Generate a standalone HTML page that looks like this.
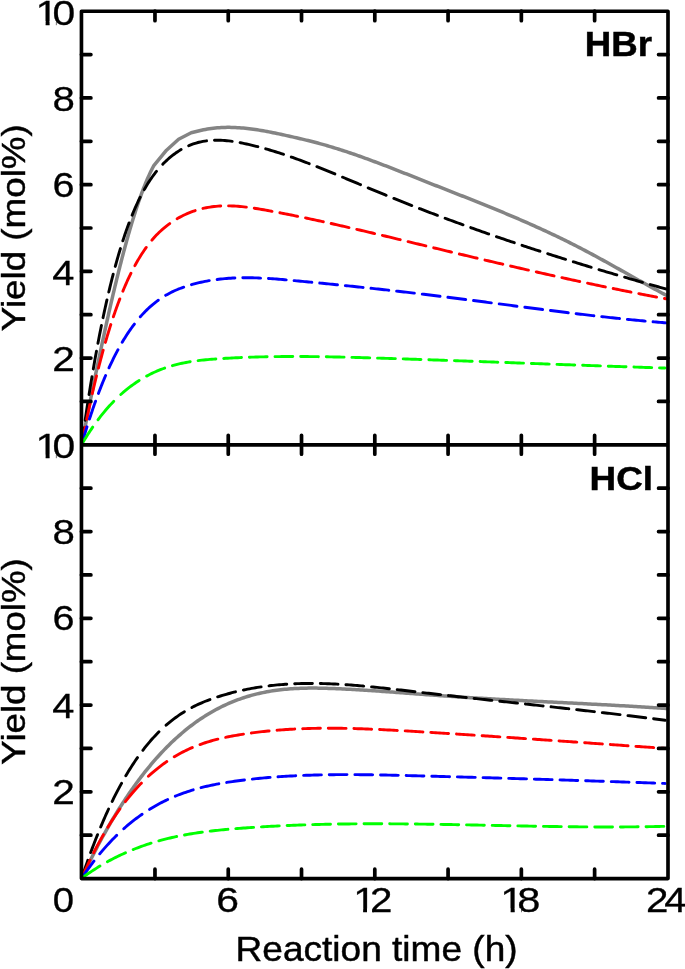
<!DOCTYPE html>
    <html><head><meta charset="utf-8"><title>Yield vs reaction time</title>
    <style>html,body{margin:0;padding:0;background:#fff;overflow:hidden}svg{display:block}</style>
    </head><body>
    <svg width="685" height="969" viewBox="0 0 685 969">
    <rect width="685" height="969" fill="#fff"/>
    <path d="M81.70,444.50 L82.08,442.54 L82.46,440.57 L82.84,438.61 L83.22,436.65 L83.60,434.69 L83.99,432.73 L84.37,430.76 L84.75,428.80 L85.14,426.84 L85.52,424.88 L85.91,422.92 L86.29,420.96 L86.68,419.00 L87.06,417.04 L87.45,415.08 L87.84,413.12 L88.23,411.15 L88.62,409.19 L89.01,407.23 L89.40,405.27 L89.79,403.31 L90.18,401.36 L90.57,399.40 L90.96,397.44 L91.36,395.48 L91.75,393.52 L92.14,391.56 L92.54,389.60 L92.94,387.64 L93.33,385.68 L93.73,383.73 L94.13,381.77 L94.53,379.81 L94.93,377.85 L95.33,375.90 L95.73,373.94 L96.14,371.98 L96.54,370.03 L96.94,368.07 L97.35,366.11 L97.76,364.16 L98.16,362.20 L98.57,360.25 L98.98,358.29 L99.39,356.34 L99.80,354.38 L100.22,352.43 L100.63,350.47 L101.05,348.52 L101.46,346.57 L101.88,344.61 L102.30,342.66 L102.72,340.71 L103.14,338.76 L103.56,336.80 L103.98,334.85 L104.41,332.90 L104.83,330.95 L105.26,329.00 L105.69,327.05 L106.12,325.10 L106.55,323.15 L106.98,321.20 L107.41,319.25 L107.85,317.30 L108.29,315.35 L108.72,313.41 L109.16,311.46 L109.61,309.51 L110.05,307.57 L110.49,305.62 L110.94,303.68 L111.39,301.73 L111.84,299.79 L112.29,297.84 L112.75,295.90 L113.20,293.96 L113.66,292.01 L114.12,290.07 L114.58,288.13 L115.05,286.19 L115.51,284.25 L115.98,282.31 L116.45,280.37 L116.92,278.43 L117.40,276.50 L117.88,274.56 L118.36,272.62 L118.84,270.69 L119.33,268.75 L119.81,266.82 L120.30,264.88 L120.80,262.95 L121.29,261.02 L121.79,259.09 L122.29,257.16 L122.80,255.23 L123.31,253.30 L123.82,251.38 L124.33,249.45 L124.85,247.53 L125.37,245.60 L125.90,243.68 L126.43,241.76 L126.96,239.84 L127.50,237.92 L128.04,236.00 L128.58,234.09 L129.13,232.17 L129.69,230.26 L130.25,228.35 L130.81,226.44 L131.38,224.53 L131.95,222.62 L132.53,220.72 L133.11,218.82 L133.70,216.91 L134.30,215.02 L134.90,213.12 L135.51,211.23 L136.12,209.33 L136.74,207.44 L137.37,205.56 L138.01,203.68 L138.65,201.79 L139.31,199.92 L139.97,198.04 L140.64,196.17 L141.31,194.31 L142.00,192.45 L142.70,190.59 L143.41,188.74 L144.13,186.89 L144.87,185.05 L145.61,183.21 L146.37,181.38 L147.15,179.56 L147.94,177.74 L148.75,175.94 L149.57,174.14 L150.41,172.35 L151.28,170.57 L152.16,168.81 L153.07,167.06 L153.80,165.70 L166.50,150.20 L178.60,139.30 L191.20,132.80 L203.50,129.80 L205.46,129.41 L207.42,129.06 L209.40,128.75 L211.37,128.46 L213.36,128.22 L215.34,128.00 L217.33,127.82 L219.33,127.67 L221.32,127.55 L223.32,127.46 L225.32,127.40 L227.32,127.37 L229.32,127.37 L231.32,127.40 L233.32,127.45 L235.32,127.53 L237.31,127.63 L239.31,127.76 L241.31,127.91 L243.30,128.08 L245.29,128.27 L247.28,128.48 L249.27,128.72 L251.25,128.97 L253.24,129.23 L255.22,129.52 L257.20,129.82 L259.17,130.13 L261.15,130.46 L263.12,130.80 L265.09,131.15 L267.06,131.52 L269.02,131.89 L270.99,132.27 L272.95,132.67 L274.91,133.07 L276.87,133.47 L278.82,133.89 L280.78,134.31 L282.73,134.73 L284.69,135.16 L286.64,135.59 L288.59,136.03 L290.55,136.46 L292.50,136.90 L294.45,137.35 L296.40,137.79 L298.35,138.24 L300.30,138.70 L302.24,139.15 L304.19,139.62 L306.13,140.09 L308.08,140.57 L310.02,141.05 L311.96,141.54 L313.90,142.04 L315.83,142.54 L317.77,143.05 L319.70,143.58 L321.63,144.11 L323.56,144.65 L325.48,145.19 L327.40,145.75 L329.32,146.31 L331.24,146.88 L333.16,147.46 L335.07,148.05 L336.98,148.64 L338.89,149.24 L340.80,149.85 L342.70,150.47 L344.60,151.09 L346.50,151.71 L348.40,152.35 L350.30,152.99 L352.19,153.63 L354.09,154.28 L355.98,154.93 L357.87,155.59 L359.75,156.26 L361.64,156.93 L363.52,157.60 L365.40,158.28 L367.29,158.97 L369.16,159.65 L371.04,160.34 L372.92,161.04 L374.79,161.74 L376.67,162.44 L378.54,163.14 L380.41,163.85 L382.28,164.56 L384.15,165.27 L386.02,165.99 L387.88,166.71 L389.75,167.43 L391.62,168.15 L393.48,168.88 L395.34,169.60 L397.21,170.33 L399.07,171.06 L400.93,171.79 L402.79,172.52 L404.65,173.26 L406.52,173.99 L408.38,174.73 L410.24,175.46 L412.10,176.20 L413.95,176.93 L415.81,177.67 L417.67,178.41 L419.53,179.14 L421.39,179.88 L423.25,180.61 L425.11,181.35 L426.97,182.08 L428.83,182.82 L430.69,183.55 L432.55,184.28 L434.42,185.01 L436.28,185.75 L438.14,186.48 L440.00,187.21 L441.86,187.94 L443.72,188.67 L445.58,189.40 L447.45,190.13 L449.31,190.86 L451.17,191.60 L453.03,192.33 L454.89,193.06 L456.75,193.79 L458.61,194.53 L460.47,195.26 L462.33,196.00 L464.19,196.73 L466.05,197.47 L467.91,198.20 L469.77,198.94 L471.63,199.68 L473.49,200.42 L475.35,201.16 L477.20,201.91 L479.06,202.65 L480.92,203.40 L482.77,204.14 L484.63,204.89 L486.48,205.64 L488.34,206.40 L490.19,207.15 L492.04,207.91 L493.89,208.66 L495.74,209.42 L497.59,210.19 L499.44,210.95 L501.29,211.72 L503.14,212.48 L504.98,213.25 L506.83,214.03 L508.67,214.80 L510.51,215.58 L512.36,216.36 L514.20,217.15 L516.04,217.93 L517.88,218.72 L519.71,219.51 L521.55,220.31 L523.38,221.11 L525.22,221.91 L527.05,222.71 L528.88,223.52 L530.71,224.33 L532.54,225.14 L534.36,225.96 L536.19,226.78 L538.01,227.60 L539.83,228.43 L541.65,229.26 L543.47,230.10 L545.29,230.93 L547.10,231.78 L548.92,232.62 L550.73,233.47 L552.54,234.32 L554.35,235.18 L556.15,236.04 L557.96,236.91 L559.76,237.78 L561.56,238.65 L563.36,239.53 L565.16,240.41 L566.95,241.30 L568.74,242.19 L570.53,243.08 L572.32,243.98 L574.11,244.88 L575.89,245.79 L577.67,246.70 L579.45,247.62 L581.23,248.54 L583.00,249.47 L584.77,250.40 L586.54,251.33 L588.31,252.27 L590.07,253.22 L591.84,254.16 L593.60,255.11 L595.36,256.06 L597.12,257.02 L598.87,257.98 L600.63,258.94 L602.38,259.90 L604.13,260.87 L605.89,261.83 L607.64,262.80 L609.38,263.77 L611.13,264.75 L612.88,265.72 L614.63,266.70 L616.37,267.67 L618.12,268.65 L619.86,269.63 L621.60,270.61 L623.35,271.59 L625.09,272.57 L626.84,273.55 L628.58,274.53 L630.32,275.51 L632.07,276.49 L633.81,277.47 L635.55,278.45 L637.30,279.42 L639.04,280.40 L640.79,281.37 L642.54,282.35 L644.28,283.32 L646.03,284.29 L647.78,285.26 L649.53,286.23 L651.28,287.19 L653.03,288.15 L654.79,289.11 L656.54,290.07 L658.30,291.02 L660.06,291.97 L661.82,292.92 L663.58,293.86 L665.35,294.80 L667.11,295.74 L667.60,296.00" fill="none" stroke="#848484" stroke-width="3.5" stroke-linejoin="round"/>
<path d="M81.70,444.50 L81.97,442.52 L82.25,440.54 L82.52,438.57 L82.80,436.59 L83.07,434.62 L83.35,432.64 L83.63,430.67 L83.92,428.69 L84.20,426.72 L84.49,424.75 L84.77,422.77 L85.06,420.80 L85.35,418.82 L85.64,416.85 L85.94,414.88 L86.23,412.91 L86.53,410.93 L86.83,408.96 L87.13,406.99 L87.43,405.02 L87.73,403.05 L88.04,401.08 L88.34,399.11 L88.65,397.14 L88.96,395.17 L89.27,393.20 L89.59,391.23 L89.91,389.26 L90.22,387.29 L90.54,385.33 L90.87,383.36 L91.19,381.39 L91.52,379.42 L91.85,377.46 L92.18,375.49 L92.51,373.53 L92.84,371.56 L93.18,369.60 L93.52,367.63 L93.86,365.67 L94.21,363.70 L94.55,361.74 L94.90,359.78 L95.25,357.82 L95.61,355.86 L95.96,353.90 L96.32,351.93 L96.68,349.97 L97.04,348.02 L97.41,346.06 L97.78,344.10 L98.15,342.14 L98.53,340.18 L98.90,338.23 L99.28,336.27 L99.66,334.31 L100.05,332.36 L100.44,330.41 L100.83,328.45 L101.22,326.50 L101.62,324.55 L102.02,322.60 L102.43,320.65 L102.83,318.70 L103.24,316.75 L103.66,314.80 L104.07,312.85 L104.49,310.90 L104.92,308.96 L105.35,307.01 L105.78,305.07 L106.21,303.12 L106.65,301.18 L107.09,299.24 L107.54,297.30 L107.99,295.36 L108.44,293.42 L108.90,291.48 L109.36,289.55 L109.83,287.61 L110.30,285.68 L110.77,283.74 L111.25,281.81 L111.74,279.88 L112.23,277.95 L112.72,276.02 L113.22,274.10 L113.72,272.17 L114.23,270.25 L114.74,268.33 L115.26,266.41 L115.79,264.49 L116.32,262.57 L116.86,260.66 L117.40,258.74 L117.95,256.83 L118.50,254.92 L119.07,253.01 L119.63,251.11 L120.21,249.21 L120.79,247.31 L121.38,245.41 L121.98,243.51 L122.58,241.62 L123.19,239.73 L123.81,237.84 L124.44,235.96 L125.08,234.08 L125.73,232.20 L126.38,230.32 L127.05,228.45 L127.72,226.58 L128.40,224.72 L129.10,222.86 L129.80,221.01 L130.52,219.16 L131.25,217.31 L131.99,215.47 L132.74,213.63 L133.50,211.80 L134.28,209.98 L135.07,208.16 L135.87,206.35 L136.69,204.54 L137.52,202.74 L138.37,200.95 L139.23,199.17 L140.12,197.40 L141.01,195.63 L141.93,193.87 L142.86,192.13 L143.82,190.39 L144.79,188.67 L145.78,186.96 L146.80,185.26 L147.83,183.57 L148.89,181.90 L149.97,180.25 L151.08,178.61 L152.21,176.99 L153.37,175.38 L154.55,173.80 L155.76,172.23 L157.00,170.69 L158.26,169.17 L159.56,167.67 L160.88,166.20 L162.23,164.75 L163.61,163.34 L165.02,161.94 L166.46,160.58 L167.92,159.25 L169.42,157.95 L170.94,156.67 L172.48,155.44 L174.06,154.24 L175.67,153.07 L177.30,151.95 L178.96,150.87 L180.65,149.83 L182.37,148.84 L184.12,147.90 L185.89,147.01 L187.69,146.16 L189.51,145.37 L191.36,144.64 L193.23,143.96 L195.12,143.34 L197.03,142.77 L198.95,142.26 L200.90,141.81 L202.85,141.42 L204.82,141.08 L206.79,140.80 L208.78,140.57 L210.77,140.40 L212.76,140.28 L214.76,140.21 L216.76,140.18 L218.76,140.21 L220.76,140.27 L222.76,140.38 L224.75,140.52 L226.75,140.71 L228.74,140.92 L230.72,141.17 L232.70,141.45 L234.68,141.75 L236.66,142.08 L238.63,142.43 L240.60,142.80 L242.56,143.18 L244.52,143.59 L246.48,144.01 L248.43,144.44 L250.38,144.88 L252.33,145.34 L254.28,145.81 L256.22,146.29 L258.16,146.79 L260.10,147.30 L262.03,147.82 L263.96,148.35 L265.89,148.89 L267.81,149.44 L269.73,150.00 L271.65,150.58 L273.56,151.16 L275.48,151.75 L277.39,152.35 L279.29,152.96 L281.20,153.58 L283.10,154.20 L284.99,154.84 L286.89,155.48 L288.78,156.13 L290.67,156.79 L292.56,157.46 L294.45,158.13 L296.33,158.81 L298.21,159.49 L300.09,160.18 L301.96,160.88 L303.84,161.58 L305.71,162.29 L307.58,163.00 L309.45,163.72 L311.31,164.44 L313.18,165.17 L315.04,165.90 L316.90,166.63 L318.76,167.37 L320.62,168.12 L322.47,168.86 L324.33,169.61 L326.18,170.37 L328.03,171.12 L329.88,171.88 L331.73,172.64 L333.58,173.41 L335.43,174.17 L337.28,174.94 L339.13,175.71 L340.97,176.48 L342.82,177.25 L344.66,178.02 L346.51,178.80 L348.35,179.57 L350.19,180.35 L352.04,181.13 L353.88,181.90 L355.72,182.68 L357.57,183.45 L359.41,184.23 L361.25,185.00 L363.10,185.78 L364.94,186.55 L366.79,187.32 L368.63,188.10 L370.48,188.87 L372.32,189.63 L374.17,190.40 L376.02,191.16 L377.87,191.93 L379.71,192.69 L381.56,193.45 L383.42,194.20 L385.27,194.96 L387.12,195.71 L388.97,196.46 L390.83,197.21 L392.68,197.96 L394.54,198.71 L396.39,199.45 L398.25,200.19 L400.11,200.93 L401.96,201.67 L403.82,202.41 L405.68,203.14 L407.54,203.88 L409.40,204.61 L411.27,205.34 L413.13,206.07 L414.99,206.79 L416.86,207.52 L418.72,208.24 L420.58,208.96 L422.45,209.68 L424.32,210.40 L426.18,211.11 L428.05,211.83 L429.92,212.54 L431.79,213.25 L433.66,213.96 L435.53,214.66 L437.40,215.37 L439.27,216.07 L441.15,216.77 L443.02,217.47 L444.89,218.17 L446.77,218.87 L448.64,219.56 L450.52,220.26 L452.39,220.95 L454.27,221.64 L456.15,222.33 L458.03,223.01 L459.91,223.70 L461.79,224.38 L463.67,225.06 L465.55,225.74 L467.43,226.42 L469.31,227.09 L471.19,227.77 L473.07,228.44 L474.96,229.11 L476.84,229.78 L478.73,230.45 L480.61,231.12 L482.50,231.78 L484.39,232.45 L486.27,233.11 L488.16,233.77 L490.05,234.43 L491.94,235.08 L493.83,235.74 L495.72,236.39 L497.61,237.04 L499.50,237.69 L501.39,238.34 L503.28,238.99 L505.17,239.64 L507.07,240.28 L508.96,240.92 L510.85,241.56 L512.75,242.20 L514.64,242.84 L516.54,243.48 L518.44,244.11 L520.33,244.75 L522.23,245.38 L524.13,246.01 L526.03,246.64 L527.93,247.26 L529.82,247.89 L531.72,248.52 L533.62,249.14 L535.53,249.76 L537.43,250.38 L539.33,251.00 L541.23,251.62 L543.13,252.23 L545.04,252.84 L546.94,253.46 L548.84,254.07 L550.75,254.68 L552.65,255.29 L554.56,255.89 L556.46,256.50 L558.37,257.10 L560.28,257.71 L562.18,258.31 L564.09,258.91 L566.00,259.51 L567.91,260.10 L569.82,260.70 L571.73,261.29 L573.64,261.89 L575.55,262.48 L577.46,263.07 L579.37,263.66 L581.28,264.25 L583.19,264.83 L585.10,265.42 L587.02,266.00 L588.93,266.59 L590.84,267.17 L592.76,267.75 L594.67,268.33 L596.59,268.90 L598.50,269.48 L600.42,270.05 L602.33,270.63 L604.25,271.20 L606.17,271.77 L608.08,272.34 L610.00,272.91 L611.92,273.48 L613.84,274.04 L615.75,274.61 L617.67,275.17 L619.59,275.73 L621.51,276.29 L623.43,276.85 L625.35,277.41 L627.27,277.97 L629.19,278.53 L631.11,279.08 L633.03,279.64 L634.96,280.19 L636.88,280.74 L638.80,281.29 L640.72,281.84 L642.65,282.39 L644.57,282.94 L646.49,283.49 L648.42,284.03 L650.34,284.58 L652.27,285.12 L654.19,285.66 L656.12,286.20 L658.04,286.74 L659.97,287.28 L661.90,287.82 L663.82,288.35 L665.75,288.89 L667.60,289.40" fill="none" stroke="#000000" stroke-width="2.9" stroke-linejoin="round" stroke-dasharray="15.14 7.95 17.97 7.96 18.01 7.97 18.07 7.99 18.13 8.01 18.23 8.03 18.37 8.07 18.58 8.14 18.96 8.27 19.76 8.57 21.98 9.57 23.50 8.51 18.59 7.92 17.82 7.97 18.26 8.08 18.71 8.19 19.10 8.27 19.38 8.32 19.49 8.32 19.43 8.29 19.30 8.26 19.19 8.24 19.09 8.21 18.99 8.19 18.90 8.17 18.83 8.15 18.75 8.14 18.69 8.12 18.63 8.11 18.58 8.10 16.55 100.00" stroke-dashoffset="-1.45" stroke-linecap="round"/>
<path d="M81.70,444.49 L82.08,442.53 L82.46,440.57 L82.84,438.61 L83.22,436.66 L83.61,434.70 L83.99,432.74 L84.38,430.79 L84.78,428.83 L85.17,426.88 L85.57,424.92 L85.97,422.97 L86.37,421.02 L86.77,419.07 L87.18,417.12 L87.59,415.16 L88.00,413.21 L88.42,411.26 L88.84,409.31 L89.26,407.37 L89.68,405.42 L90.11,403.47 L90.54,401.53 L90.97,399.58 L91.41,397.63 L91.84,395.69 L92.29,393.75 L92.73,391.80 L93.18,389.86 L93.63,387.92 L94.09,385.98 L94.54,384.04 L95.00,382.10 L95.47,380.17 L95.94,378.23 L96.41,376.30 L96.89,374.36 L97.37,372.43 L97.85,370.50 L98.34,368.56 L98.83,366.63 L99.32,364.70 L99.82,362.78 L100.33,360.85 L100.83,358.92 L101.35,357.00 L101.86,355.08 L102.39,353.16 L102.91,351.24 L103.44,349.32 L103.98,347.40 L104.52,345.48 L105.07,343.57 L105.62,341.66 L106.17,339.75 L106.74,337.84 L107.30,335.93 L107.88,334.02 L108.46,332.12 L109.04,330.22 L109.63,328.32 L110.23,326.42 L110.83,324.53 L111.44,322.63 L112.06,320.74 L112.68,318.85 L113.32,316.97 L113.95,315.08 L114.60,313.20 L115.25,311.33 L115.91,309.45 L116.58,307.58 L117.26,305.71 L117.95,303.85 L118.64,301.98 L119.34,300.13 L120.06,298.27 L120.78,296.42 L121.51,294.57 L122.25,292.73 L123.00,290.89 L123.77,289.06 L124.54,287.23 L125.33,285.41 L126.12,283.59 L126.93,281.78 L127.75,279.97 L128.59,278.17 L129.43,276.38 L130.30,274.59 L131.17,272.81 L132.06,271.03 L132.96,269.27 L133.88,267.51 L134.82,265.77 L135.77,264.03 L136.74,262.30 L137.73,260.58 L138.74,258.87 L139.76,257.18 L140.80,255.49 L141.87,253.82 L142.95,252.17 L144.06,250.52 L145.19,248.90 L146.34,247.29 L147.51,245.69 L148.71,244.12 L149.94,242.56 L151.19,241.02 L152.46,239.51 L153.76,238.02 L155.09,236.55 L156.44,235.11 L157.83,233.69 L159.24,232.30 L160.68,230.94 L162.14,229.61 L163.64,228.31 L165.16,227.04 L166.71,225.80 L168.29,224.60 L169.89,223.43 L171.52,222.30 L173.18,221.20 L174.85,220.13 L176.55,219.10 L178.27,218.10 L180.01,217.13 L181.77,216.21 L183.55,215.32 L185.34,214.46 L187.16,213.65 L188.99,212.87 L190.84,212.14 L192.71,211.44 L194.59,210.79 L196.49,210.18 L198.40,209.61 L200.32,209.08 L202.26,208.60 L204.20,208.15 L206.16,207.75 L208.12,207.39 L210.09,207.07 L212.07,206.78 L214.05,206.54 L216.04,206.34 L218.03,206.17 L220.02,206.04 L222.02,205.94 L224.02,205.88 L226.02,205.85 L228.02,205.85 L230.02,205.89 L232.02,205.95 L234.02,206.04 L236.01,206.15 L238.01,206.29 L240.00,206.46 L241.99,206.65 L243.99,206.85 L245.97,207.08 L247.96,207.33 L249.94,207.59 L251.92,207.87 L253.90,208.16 L255.88,208.47 L257.86,208.78 L259.83,209.11 L261.80,209.45 L263.77,209.79 L265.74,210.14 L267.71,210.50 L269.68,210.86 L271.65,211.23 L273.61,211.60 L275.58,211.97 L277.54,212.34 L279.51,212.72 L281.47,213.10 L283.43,213.48 L285.40,213.86 L287.36,214.25 L289.32,214.64 L291.28,215.03 L293.24,215.43 L295.20,215.82 L297.16,216.22 L299.12,216.62 L301.08,217.03 L303.04,217.43 L305.00,217.84 L306.96,218.25 L308.91,218.67 L310.87,219.08 L312.83,219.50 L314.78,219.92 L316.74,220.34 L318.69,220.76 L320.65,221.19 L322.60,221.62 L324.56,222.04 L326.51,222.48 L328.46,222.91 L330.41,223.34 L332.37,223.78 L334.32,224.21 L336.27,224.65 L338.22,225.09 L340.17,225.54 L342.12,225.98 L344.07,226.42 L346.02,226.87 L347.97,227.32 L349.92,227.77 L351.87,228.22 L353.82,228.67 L355.77,229.12 L357.71,229.58 L359.66,230.03 L361.61,230.49 L363.56,230.94 L365.50,231.40 L367.45,231.86 L369.40,232.32 L371.34,232.78 L373.29,233.24 L375.23,233.71 L377.18,234.17 L379.13,234.63 L381.07,235.10 L383.02,235.56 L384.96,236.03 L386.91,236.50 L388.85,236.96 L390.80,237.43 L392.74,237.90 L394.68,238.37 L396.63,238.84 L398.57,239.31 L400.52,239.78 L402.46,240.25 L404.40,240.72 L406.35,241.19 L408.29,241.66 L410.24,242.13 L412.18,242.60 L414.12,243.07 L416.07,243.54 L418.01,244.01 L419.96,244.48 L421.90,244.95 L423.84,245.42 L425.79,245.89 L427.73,246.36 L429.68,246.83 L431.62,247.30 L433.56,247.77 L435.51,248.24 L437.45,248.71 L439.40,249.18 L441.34,249.65 L443.29,250.11 L445.23,250.58 L447.17,251.05 L449.12,251.52 L451.06,251.98 L453.01,252.45 L454.95,252.91 L456.90,253.38 L458.84,253.85 L460.79,254.31 L462.73,254.78 L464.68,255.24 L466.62,255.70 L468.57,256.17 L470.52,256.63 L472.46,257.09 L474.41,257.55 L476.35,258.01 L478.30,258.48 L480.25,258.94 L482.19,259.40 L484.14,259.86 L486.09,260.31 L488.03,260.77 L489.98,261.23 L491.93,261.69 L493.87,262.14 L495.82,262.60 L497.77,263.06 L499.71,263.51 L501.66,263.96 L503.61,264.42 L505.56,264.87 L507.51,265.32 L509.45,265.78 L511.40,266.23 L513.35,266.68 L515.30,267.13 L517.25,267.58 L519.20,268.02 L521.15,268.47 L523.10,268.92 L525.05,269.36 L527.00,269.81 L528.95,270.25 L530.90,270.70 L532.85,271.14 L534.80,271.58 L536.75,272.02 L538.70,272.47 L540.65,272.91 L542.60,273.34 L544.55,273.78 L546.50,274.22 L548.45,274.66 L550.41,275.09 L552.36,275.53 L554.31,275.96 L556.26,276.39 L558.22,276.82 L560.17,277.25 L562.12,277.68 L564.08,278.11 L566.03,278.54 L567.98,278.97 L569.94,279.39 L571.89,279.82 L573.85,280.24 L575.80,280.67 L577.76,281.09 L579.71,281.51 L581.67,281.93 L583.62,282.35 L585.58,282.76 L587.53,283.18 L589.49,283.60 L591.45,284.01 L593.40,284.42 L595.36,284.83 L597.32,285.25 L599.27,285.66 L601.23,286.06 L603.19,286.47 L605.15,286.88 L607.11,287.28 L609.07,287.69 L611.02,288.09 L612.98,288.49 L614.94,288.89 L616.90,289.29 L618.86,289.68 L620.82,290.08 L622.78,290.47 L624.74,290.87 L626.71,291.26 L628.67,291.65 L630.63,292.04 L632.59,292.43 L634.55,292.81 L636.52,293.20 L638.48,293.58 L640.44,293.97 L642.40,294.35 L644.37,294.73 L646.33,295.10 L648.30,295.48 L650.26,295.86 L652.22,296.23 L654.19,296.60 L656.15,296.97 L658.12,297.34 L660.09,297.71 L662.05,298.07 L664.02,298.44 L665.99,298.80 L667.60,299.10" fill="none" stroke="#ff0000" stroke-width="2.9" stroke-linejoin="round" stroke-dasharray="16.23 8.00 18.21 8.02 18.31 8.05 18.45 8.10 18.67 8.16 19.04 8.28 19.74 8.53 21.46 9.24 24.38 8.86 19.80 8.09 17.97 7.90 17.81 7.95 18.05 7.99 18.14 8.01 18.21 8.02 18.26 8.03 18.30 8.04 18.33 8.04 18.34 8.04 18.33 8.04 18.32 8.04 18.30 8.03 18.28 8.03 18.25 8.02 18.22 8.01 18.19 8.00 18.15 8.00 18.12 7.99 1.70 100.00" stroke-dashoffset="-1.45" stroke-linecap="round"/>
<path d="M81.70,444.49 L82.25,442.58 L82.81,440.66 L83.37,438.75 L83.93,436.84 L84.50,434.93 L85.08,433.03 L85.66,431.12 L86.24,429.22 L86.83,427.32 L87.43,425.42 L88.03,423.52 L88.63,421.62 L89.24,419.72 L89.86,417.83 L90.48,415.94 L91.10,414.05 L91.74,412.16 L92.38,410.28 L93.02,408.39 L93.67,406.51 L94.33,404.64 L94.99,402.76 L95.67,400.89 L96.34,399.02 L97.03,397.15 L97.72,395.28 L98.42,393.42 L99.13,391.56 L99.84,389.70 L100.56,387.85 L101.29,386.00 L102.03,384.15 L102.77,382.31 L103.53,380.47 L104.29,378.63 L105.07,376.80 L105.85,374.97 L106.64,373.15 L107.44,371.33 L108.25,369.52 L109.07,367.71 L109.90,365.90 L110.74,364.10 L111.60,362.31 L112.46,360.52 L113.34,358.73 L114.22,356.96 L115.12,355.19 L116.04,353.42 L116.96,351.66 L117.90,349.91 L118.85,348.17 L119.82,346.44 L120.80,344.71 L121.79,342.99 L122.80,341.28 L123.82,339.58 L124.86,337.89 L125.92,336.21 L126.99,334.54 L128.08,332.89 L129.19,331.24 L130.32,329.61 L131.46,327.99 L132.63,326.38 L133.81,324.79 L135.01,323.21 L136.24,321.65 L137.48,320.11 L138.75,318.59 L140.04,317.08 L141.35,315.60 L142.69,314.13 L144.05,312.69 L145.43,311.27 L146.84,309.87 L148.27,308.50 L149.73,307.15 L151.21,305.83 L152.71,304.54 L154.25,303.28 L155.80,302.05 L157.39,300.86 L158.99,299.69 L160.62,298.56 L162.28,297.46 L163.96,296.40 L165.66,295.38 L167.39,294.39 L169.13,293.44 L170.90,292.52 L172.68,291.64 L174.49,290.80 L176.31,289.99 L178.14,289.22 L179.99,288.49 L181.86,287.78 L183.74,287.11 L185.62,286.47 L187.52,285.85 L189.43,285.27 L191.35,284.70 L193.27,284.16 L195.20,283.65 L197.13,283.16 L199.07,282.69 L201.02,282.24 L202.97,281.82 L204.93,281.42 L206.89,281.05 L208.86,280.69 L210.83,280.36 L212.80,280.05 L214.78,279.76 L216.76,279.50 L218.74,279.25 L220.73,279.02 L222.72,278.82 L224.71,278.63 L226.70,278.46 L228.70,278.31 L230.69,278.18 L232.69,278.07 L234.68,277.98 L236.68,277.90 L238.68,277.83 L240.68,277.79 L242.68,277.76 L244.68,277.74 L246.68,277.74 L248.68,277.75 L250.68,277.77 L252.68,277.81 L254.68,277.86 L256.68,277.92 L258.68,278.00 L260.68,278.08 L262.67,278.17 L264.67,278.28 L266.67,278.39 L268.66,278.51 L270.66,278.64 L272.66,278.78 L274.65,278.92 L276.65,279.07 L278.64,279.23 L280.63,279.39 L282.63,279.55 L284.62,279.73 L286.61,279.90 L288.60,280.08 L290.60,280.26 L292.59,280.44 L294.58,280.63 L296.57,280.82 L298.56,281.00 L300.55,281.19 L302.54,281.38 L304.53,281.57 L306.53,281.76 L308.52,281.95 L310.51,282.15 L312.50,282.34 L314.49,282.53 L316.48,282.72 L318.47,282.92 L320.46,283.11 L322.45,283.31 L324.44,283.50 L326.43,283.70 L328.42,283.90 L330.41,284.09 L332.40,284.29 L334.39,284.49 L336.38,284.69 L338.37,284.89 L340.36,285.09 L342.35,285.29 L344.34,285.50 L346.33,285.70 L348.32,285.90 L350.31,286.11 L352.30,286.31 L354.29,286.52 L356.28,286.73 L358.27,286.94 L360.26,287.14 L362.25,287.35 L364.24,287.56 L366.22,287.77 L368.21,287.99 L370.20,288.20 L372.19,288.41 L374.18,288.63 L376.17,288.84 L378.16,289.06 L380.14,289.28 L382.13,289.49 L384.12,289.71 L386.11,289.93 L388.10,290.15 L390.08,290.37 L392.07,290.60 L394.06,290.82 L396.05,291.04 L398.03,291.27 L400.02,291.49 L402.01,291.72 L404.00,291.95 L405.98,292.18 L407.97,292.41 L409.96,292.64 L411.94,292.87 L413.93,293.10 L415.92,293.34 L417.90,293.57 L419.89,293.81 L421.87,294.05 L423.86,294.29 L425.84,294.52 L427.83,294.76 L429.82,295.01 L431.80,295.25 L433.79,295.49 L435.77,295.74 L437.76,295.98 L439.74,296.23 L441.73,296.47 L443.71,296.72 L445.70,296.97 L447.68,297.22 L449.66,297.47 L451.65,297.72 L453.63,297.97 L455.62,298.22 L457.60,298.48 L459.58,298.73 L461.57,298.98 L463.55,299.24 L465.54,299.49 L467.52,299.75 L469.50,300.00 L471.49,300.26 L473.47,300.52 L475.45,300.77 L477.44,301.03 L479.42,301.29 L481.40,301.55 L483.39,301.80 L485.37,302.06 L487.35,302.32 L489.34,302.58 L491.32,302.84 L493.30,303.10 L495.29,303.36 L497.27,303.62 L499.25,303.88 L501.24,304.14 L503.22,304.40 L505.20,304.65 L507.18,304.91 L509.17,305.17 L511.15,305.43 L513.13,305.69 L515.12,305.95 L517.10,306.21 L519.08,306.47 L521.07,306.72 L523.05,306.98 L525.03,307.24 L527.02,307.50 L529.00,307.75 L530.98,308.01 L532.97,308.26 L534.95,308.52 L536.94,308.77 L538.92,309.03 L540.90,309.28 L542.89,309.53 L544.87,309.79 L546.85,310.04 L548.84,310.29 L550.82,310.54 L552.81,310.79 L554.79,311.04 L556.78,311.29 L558.76,311.53 L560.75,311.78 L562.73,312.02 L564.72,312.27 L566.70,312.51 L568.69,312.76 L570.67,313.00 L572.66,313.24 L574.64,313.48 L576.63,313.72 L578.61,313.95 L580.60,314.19 L582.59,314.43 L584.57,314.66 L586.56,314.89 L588.54,315.13 L590.53,315.36 L592.52,315.58 L594.50,315.81 L596.49,316.04 L598.48,316.26 L600.47,316.49 L602.45,316.71 L604.44,316.93 L606.43,317.15 L608.42,317.37 L610.41,317.58 L612.39,317.80 L614.38,318.01 L616.37,318.22 L618.36,318.43 L620.35,318.64 L622.34,318.85 L624.33,319.05 L626.32,319.25 L628.31,319.45 L630.30,319.65 L632.29,319.85 L634.28,320.04 L636.27,320.24 L638.26,320.43 L640.25,320.62 L642.24,320.81 L644.23,320.99 L646.22,321.17 L648.22,321.36 L650.21,321.53 L652.20,321.71 L654.19,321.89 L656.18,322.06 L658.18,322.23 L660.17,322.40 L662.16,322.56 L664.16,322.72 L666.15,322.88 L667.60,323.00" fill="none" stroke="#0000ff" stroke-width="2.9" stroke-linejoin="round" stroke-dasharray="16.98 8.15 18.91 8.23 19.35 8.37 20.15 8.64 21.94 9.35 24.50 8.87 19.85 8.14 18.28 7.96 17.82 7.90 17.75 7.91 17.80 7.92 17.83 7.92 17.84 7.93 17.85 7.93 17.86 7.93 17.88 7.94 17.89 7.94 17.91 7.94 17.91 7.94 17.92 7.94 17.91 7.94 17.90 7.94 17.88 7.93 17.86 7.93 17.84 7.92 13.15 100.00" stroke-dashoffset="-1.45" stroke-linecap="round"/>
<path d="M81.70,444.49 L82.71,442.77 L83.73,441.07 L84.76,439.37 L85.81,437.68 L86.86,435.99 L87.93,434.31 L89.01,432.64 L90.10,430.98 L91.21,429.33 L92.33,427.69 L93.46,426.05 L94.61,424.43 L95.77,422.81 L96.94,421.21 L98.13,419.61 L99.33,418.03 L100.55,416.46 L101.78,414.90 L103.03,413.35 L104.29,411.82 L105.57,410.30 L106.86,408.79 L108.18,407.30 L109.50,405.82 L110.85,404.36 L112.21,402.91 L113.59,401.48 L114.99,400.06 L116.40,398.67 L117.83,397.29 L119.28,395.92 L120.75,394.58 L122.23,393.26 L123.73,391.96 L125.25,390.68 L126.79,389.42 L128.35,388.18 L129.92,386.96 L131.51,385.76 L133.12,384.59 L134.74,383.45 L136.39,382.32 L138.05,381.22 L139.72,380.15 L141.42,379.11 L143.13,378.09 L144.85,377.09 L146.59,376.13 L148.35,375.19 L150.12,374.28 L151.91,373.40 L153.71,372.55 L155.53,371.73 L157.35,370.94 L159.20,370.18 L161.05,369.44 L162.92,368.74 L164.79,368.06 L166.68,367.42 L168.58,366.80 L170.48,366.21 L172.40,365.65 L174.32,365.12 L176.25,364.61 L178.19,364.13 L180.14,363.68 L182.09,363.25 L184.04,362.85 L186.00,362.47 L187.97,362.11 L189.94,361.77 L191.91,361.46 L193.89,361.16 L195.87,360.89 L197.85,360.63 L199.84,360.39 L201.82,360.17 L203.81,359.96 L205.80,359.76 L207.79,359.58 L209.78,359.41 L211.78,359.25 L213.77,359.09 L215.76,358.95 L217.76,358.81 L219.76,358.68 L221.75,358.56 L223.75,358.44 L225.74,358.32 L227.74,358.20 L229.74,358.10 L231.73,357.99 L233.73,357.89 L235.73,357.79 L237.73,357.70 L239.72,357.61 L241.72,357.53 L243.72,357.44 L245.72,357.37 L247.72,357.29 L249.72,357.22 L251.72,357.16 L253.71,357.09 L255.71,357.03 L257.71,356.98 L259.71,356.92 L261.71,356.88 L263.71,356.83 L265.71,356.79 L267.71,356.75 L269.71,356.71 L271.71,356.68 L273.71,356.65 L275.71,356.62 L277.71,356.60 L279.71,356.58 L281.71,356.56 L283.71,356.54 L285.71,356.53 L287.71,356.52 L289.71,356.51 L291.71,356.51 L293.71,356.51 L295.71,356.51 L297.71,356.51 L299.71,356.52 L301.71,356.52 L303.71,356.53 L305.71,356.55 L307.71,356.56 L309.71,356.58 L311.71,356.60 L313.71,356.62 L315.71,356.64 L317.71,356.67 L319.71,356.69 L321.71,356.72 L323.71,356.75 L325.71,356.79 L327.71,356.82 L329.71,356.86 L331.71,356.89 L333.71,356.93 L335.71,356.97 L337.70,357.02 L339.70,357.06 L341.70,357.11 L343.70,357.15 L345.70,357.20 L347.70,357.25 L349.70,357.30 L351.70,357.35 L353.70,357.40 L355.70,357.45 L357.70,357.51 L359.70,357.56 L361.70,357.62 L363.70,357.68 L365.70,357.73 L367.69,357.79 L369.69,357.85 L371.69,357.91 L373.69,357.97 L375.69,358.03 L377.69,358.09 L379.69,358.16 L381.69,358.22 L383.69,358.28 L385.69,358.34 L387.69,358.41 L389.68,358.47 L391.68,358.53 L393.68,358.60 L395.68,358.66 L397.68,358.72 L399.68,358.79 L401.68,358.85 L403.68,358.92 L405.68,358.99 L407.68,359.05 L409.67,359.12 L411.67,359.18 L413.67,359.25 L415.67,359.32 L417.67,359.38 L419.67,359.45 L421.67,359.52 L423.67,359.59 L425.67,359.65 L427.66,359.72 L429.66,359.79 L431.66,359.86 L433.66,359.93 L435.66,360.00 L437.66,360.06 L439.66,360.13 L441.66,360.20 L443.65,360.27 L445.65,360.34 L447.65,360.41 L449.65,360.48 L451.65,360.55 L453.65,360.62 L455.65,360.69 L457.65,360.76 L459.64,360.84 L461.64,360.91 L463.64,360.98 L465.64,361.05 L467.64,361.12 L469.64,361.19 L471.64,361.26 L473.64,361.34 L475.63,361.41 L477.63,361.48 L479.63,361.55 L481.63,361.62 L483.63,361.70 L485.63,361.77 L487.63,361.84 L489.63,361.91 L491.62,361.99 L493.62,362.06 L495.62,362.13 L497.62,362.20 L499.62,362.28 L501.62,362.35 L503.62,362.42 L505.61,362.49 L507.61,362.57 L509.61,362.64 L511.61,362.71 L513.61,362.79 L515.61,362.86 L517.61,362.93 L519.61,363.01 L521.60,363.08 L523.60,363.15 L525.60,363.22 L527.60,363.30 L529.60,363.37 L531.60,363.44 L533.60,363.52 L535.59,363.59 L537.59,363.66 L539.59,363.74 L541.59,363.81 L543.59,363.88 L545.59,363.95 L547.59,364.03 L549.59,364.10 L551.58,364.17 L553.58,364.24 L555.58,364.32 L557.58,364.39 L559.58,364.46 L561.58,364.53 L563.58,364.61 L565.57,364.68 L567.57,364.75 L569.57,364.82 L571.57,364.89 L573.57,364.97 L575.57,365.04 L577.57,365.11 L579.57,365.18 L581.56,365.25 L583.56,365.32 L585.56,365.39 L587.56,365.46 L589.56,365.53 L591.56,365.60 L593.56,365.67 L595.56,365.75 L597.55,365.82 L599.55,365.88 L601.55,365.95 L603.55,366.02 L605.55,366.09 L607.55,366.16 L609.55,366.23 L611.55,366.30 L613.55,366.37 L615.54,366.44 L617.54,366.50 L619.54,366.57 L621.54,366.64 L623.54,366.71 L625.54,366.78 L627.54,366.84 L629.54,366.91 L631.53,366.98 L633.53,367.04 L635.53,367.11 L637.53,367.17 L639.53,367.24 L641.53,367.30 L643.53,367.37 L645.53,367.43 L647.53,367.50 L649.53,367.56 L651.52,367.63 L653.52,367.69 L655.52,367.75 L657.52,367.82 L659.52,367.88 L661.52,367.94 L663.52,368.00 L665.52,368.07 L666.60,368.10" fill="none" stroke="#00ff00" stroke-width="2.9" stroke-linejoin="round" stroke-dasharray="19.10 9.06 24.26 9.83 23.11 8.70 19.71 8.15 18.25 7.95 17.83 7.91 17.77 7.90 17.75 7.90 17.74 7.90 17.74 7.90 17.74 7.90 17.75 7.90 17.75 7.90 17.75 7.90 17.75 7.90 17.75 7.90 17.75 7.90 17.75 7.90 17.75 7.90 17.75 7.90 17.75 7.90 17.75 7.90 17.75 7.90 5.52 100.00" stroke-dashoffset="-1.45" stroke-linecap="round"/>
    <path d="M81.70,878.21 L82.55,876.40 L83.40,874.60 L84.26,872.80 L85.12,871.00 L85.99,869.20 L86.86,867.41 L87.74,865.62 L88.62,863.83 L89.50,862.04 L90.39,860.25 L91.28,858.47 L92.18,856.69 L93.09,854.91 L94.00,853.14 L94.91,851.36 L95.83,849.59 L96.75,847.83 L97.68,846.06 L98.62,844.30 L99.56,842.54 L100.50,840.78 L101.45,839.03 L102.41,837.28 L103.37,835.53 L104.34,833.79 L105.31,832.05 L106.29,830.31 L107.27,828.58 L108.26,826.85 L109.26,825.12 L110.26,823.39 L111.27,821.67 L112.28,819.96 L113.30,818.25 L114.33,816.54 L115.36,814.83 L116.40,813.13 L117.45,811.43 L118.50,809.74 L119.56,808.05 L120.63,806.37 L121.70,804.69 L122.78,803.01 L123.87,801.34 L124.97,799.68 L126.07,798.02 L127.18,796.36 L128.30,794.71 L129.42,793.06 L130.55,791.42 L131.69,789.79 L132.84,788.16 L134.00,786.54 L135.16,784.92 L136.33,783.31 L137.51,781.70 L138.70,780.10 L139.90,778.51 L141.10,776.92 L142.32,775.34 L143.54,773.77 L144.77,772.20 L146.01,770.64 L147.26,769.09 L148.52,767.54 L149.79,766.01 L151.07,764.48 L152.35,762.96 L153.65,761.44 L154.96,759.94 L156.27,758.44 L157.60,756.96 L158.94,755.48 L160.28,754.01 L161.64,752.55 L163.01,751.10 L164.39,749.66 L165.77,748.23 L167.17,746.82 L168.58,745.41 L170.00,744.01 L171.43,742.62 L172.88,741.25 L174.33,739.89 L175.79,738.54 L177.27,737.20 L178.76,735.87 L180.26,734.56 L181.77,733.26 L183.29,731.97 L184.82,730.70 L186.36,729.44 L187.92,728.20 L189.49,726.97 L191.07,725.75 L192.66,724.55 L194.26,723.37 L195.88,722.20 L197.50,721.05 L199.14,719.91 L200.79,718.80 L202.45,717.69 L204.12,716.61 L205.81,715.54 L207.50,714.50 L209.21,713.47 L210.93,712.46 L212.66,711.47 L214.40,710.49 L216.15,709.54 L217.91,708.61 L219.69,707.69 L221.47,706.80 L223.26,705.93 L225.07,705.08 L226.88,704.25 L228.70,703.44 L230.54,702.65 L232.38,701.88 L234.23,701.14 L236.09,700.41 L237.96,699.71 L239.83,699.03 L241.72,698.38 L243.61,697.74 L245.51,697.13 L247.42,696.54 L249.33,695.97 L251.25,695.42 L253.18,694.90 L255.11,694.39 L257.05,693.91 L258.99,693.45 L260.94,693.01 L262.89,692.60 L264.85,692.20 L266.81,691.83 L268.78,691.47 L270.75,691.14 L272.73,690.83 L274.70,690.53 L276.68,690.26 L278.66,690.00 L280.65,689.76 L282.64,689.54 L284.62,689.34 L286.61,689.16 L288.61,688.99 L290.60,688.84 L292.60,688.70 L294.59,688.58 L296.59,688.47 L298.59,688.38 L300.58,688.30 L302.58,688.24 L304.58,688.19 L306.58,688.15 L308.58,688.12 L310.58,688.10 L312.58,688.10 L314.58,688.10 L316.58,688.12 L318.58,688.14 L320.58,688.17 L322.58,688.21 L324.58,688.26 L326.58,688.32 L328.58,688.38 L330.58,688.45 L332.58,688.52 L334.57,688.60 L336.57,688.69 L338.57,688.77 L340.57,688.87 L342.57,688.96 L344.56,689.06 L346.56,689.16 L348.56,689.26 L350.56,689.37 L352.55,689.48 L354.55,689.59 L356.55,689.70 L358.54,689.82 L360.54,689.94 L362.54,690.06 L364.53,690.18 L366.53,690.31 L368.53,690.44 L370.52,690.57 L372.52,690.70 L374.51,690.83 L376.51,690.97 L378.50,691.10 L380.50,691.24 L382.49,691.38 L384.49,691.52 L386.48,691.66 L388.48,691.80 L390.47,691.95 L392.47,692.09 L394.46,692.24 L396.46,692.39 L398.45,692.53 L400.45,692.68 L402.44,692.83 L404.44,692.98 L406.43,693.13 L408.42,693.28 L410.42,693.43 L412.41,693.58 L414.41,693.73 L416.40,693.88 L418.40,694.03 L420.39,694.18 L422.39,694.33 L424.38,694.48 L426.37,694.63 L428.37,694.78 L430.36,694.92 L432.36,695.07 L434.35,695.22 L436.35,695.36 L438.34,695.50 L440.34,695.65 L442.33,695.79 L444.33,695.93 L446.32,696.07 L448.32,696.21 L450.31,696.34 L452.31,696.48 L454.30,696.61 L456.30,696.74 L458.29,696.88 L460.29,697.01 L462.29,697.13 L464.28,697.26 L466.28,697.39 L468.27,697.51 L470.27,697.64 L472.27,697.76 L474.26,697.88 L476.26,698.01 L478.25,698.13 L480.25,698.24 L482.25,698.36 L484.24,698.48 L486.24,698.60 L488.24,698.71 L490.23,698.83 L492.23,698.94 L494.23,699.05 L496.22,699.17 L498.22,699.28 L500.22,699.39 L502.22,699.50 L504.21,699.61 L506.21,699.72 L508.21,699.83 L510.20,699.93 L512.20,700.04 L514.20,700.15 L516.19,700.25 L518.19,700.36 L520.19,700.46 L522.19,700.57 L524.18,700.67 L526.18,700.78 L528.18,700.88 L530.18,700.98 L532.17,701.08 L534.17,701.19 L536.17,701.29 L538.17,701.39 L540.16,701.49 L542.16,701.59 L544.16,701.69 L546.16,701.79 L548.15,701.90 L550.15,702.00 L552.15,702.10 L554.14,702.20 L556.14,702.30 L558.14,702.40 L560.14,702.50 L562.13,702.60 L564.13,702.70 L566.13,702.80 L568.13,702.90 L570.12,703.00 L572.12,703.10 L574.12,703.20 L576.12,703.30 L578.11,703.41 L580.11,703.51 L582.11,703.61 L584.11,703.71 L586.10,703.81 L588.10,703.92 L590.10,704.02 L592.10,704.13 L594.09,704.23 L596.09,704.33 L598.09,704.44 L600.09,704.54 L602.08,704.65 L604.08,704.76 L606.08,704.87 L608.07,704.97 L610.07,705.08 L612.07,705.19 L614.06,705.30 L616.06,705.41 L618.06,705.52 L620.06,705.63 L622.05,705.75 L624.05,705.86 L626.05,705.97 L628.04,706.09 L630.04,706.21 L632.04,706.32 L634.03,706.44 L636.03,706.56 L638.03,706.68 L640.02,706.80 L642.02,706.92 L644.01,707.04 L646.01,707.17 L648.01,707.29 L650.00,707.42 L652.00,707.55 L653.99,707.67 L655.99,707.80 L657.99,707.93 L659.98,708.07 L661.98,708.20 L663.97,708.33 L665.97,708.47 L667.90,708.60" fill="none" stroke="#848484" stroke-width="3.5" stroke-linejoin="round"/>
<path d="M81.70,878.19 L82.33,876.30 L82.96,874.41 L83.60,872.52 L84.25,870.64 L84.89,868.75 L85.54,866.87 L86.20,864.99 L86.86,863.11 L87.53,861.23 L88.19,859.35 L88.87,857.47 L89.55,855.60 L90.23,853.73 L90.92,851.86 L91.61,849.99 L92.31,848.12 L93.02,846.26 L93.73,844.40 L94.44,842.54 L95.16,840.68 L95.89,838.83 L96.62,836.97 L97.36,835.12 L98.10,833.27 L98.85,831.43 L99.61,829.59 L100.37,827.75 L101.13,825.91 L101.91,824.07 L102.69,822.24 L103.48,820.41 L104.27,818.58 L105.07,816.76 L105.88,814.94 L106.69,813.12 L107.52,811.31 L108.35,809.50 L109.18,807.70 L110.03,805.89 L110.88,804.09 L111.74,802.30 L112.61,800.51 L113.49,798.72 L114.37,796.94 L115.27,795.16 L116.17,793.39 L117.08,791.62 L118.00,789.86 L118.94,788.10 L119.88,786.34 L120.83,784.59 L121.79,782.85 L122.76,781.12 L123.74,779.38 L124.73,777.66 L125.73,775.94 L126.74,774.23 L127.77,772.52 L128.80,770.83 L129.85,769.14 L130.91,767.45 L131.98,765.78 L133.06,764.11 L134.16,762.45 L135.27,760.80 L136.39,759.16 L137.53,757.53 L138.68,755.91 L139.84,754.30 L141.02,752.70 L142.21,751.11 L143.42,749.53 L144.64,747.96 L145.88,746.40 L147.13,744.86 L148.40,743.33 L149.69,741.82 L150.99,740.32 L152.31,738.83 L153.64,737.36 L154.99,735.90 L156.36,734.46 L157.75,733.04 L159.16,731.63 L160.58,730.24 L162.02,728.87 L163.47,727.52 L164.95,726.19 L166.44,724.88 L167.96,723.59 L169.49,722.32 L171.04,721.07 L172.60,719.84 L174.19,718.64 L175.79,717.46 L177.41,716.31 L179.05,715.18 L180.70,714.07 L182.37,712.99 L184.06,711.94 L185.76,710.91 L187.48,709.90 L189.22,708.93 L190.97,707.97 L192.73,707.05 L194.51,706.15 L196.30,705.27 L198.10,704.42 L199.92,703.60 L201.74,702.80 L203.58,702.02 L205.43,701.27 L207.29,700.54 L209.15,699.83 L211.03,699.14 L212.91,698.48 L214.79,697.83 L216.69,697.20 L218.59,696.58 L220.50,695.99 L222.41,695.41 L224.32,694.84 L226.24,694.29 L228.17,693.75 L230.10,693.23 L232.03,692.72 L233.96,692.22 L235.90,691.74 L237.85,691.28 L239.79,690.83 L241.74,690.40 L243.70,689.97 L245.65,689.57 L247.61,689.18 L249.58,688.80 L251.54,688.43 L253.51,688.08 L255.48,687.75 L257.45,687.43 L259.43,687.12 L261.41,686.82 L263.38,686.54 L265.37,686.27 L267.35,686.02 L269.33,685.78 L271.32,685.55 L273.31,685.33 L275.30,685.13 L277.29,684.93 L279.28,684.76 L281.27,684.59 L283.26,684.43 L285.26,684.29 L287.25,684.16 L289.25,684.04 L291.25,683.93 L293.24,683.83 L295.24,683.75 L297.24,683.67 L299.24,683.61 L301.24,683.55 L303.24,683.51 L305.24,683.48 L307.24,683.45 L309.24,683.44 L311.24,683.43 L313.24,683.44 L315.24,683.45 L317.24,683.47 L319.24,683.51 L321.23,683.55 L323.23,683.60 L325.23,683.65 L327.23,683.72 L329.23,683.79 L331.23,683.87 L333.23,683.96 L335.23,684.06 L337.22,684.16 L339.22,684.27 L341.22,684.38 L343.21,684.51 L345.21,684.63 L347.21,684.77 L349.20,684.91 L351.20,685.06 L353.19,685.21 L355.18,685.37 L357.18,685.53 L359.17,685.70 L361.16,685.87 L363.16,686.05 L365.15,686.23 L367.14,686.42 L369.13,686.61 L371.12,686.80 L373.11,687.00 L375.10,687.20 L377.09,687.41 L379.08,687.61 L381.07,687.83 L383.06,688.04 L385.05,688.26 L387.03,688.47 L389.02,688.70 L391.01,688.92 L393.00,689.14 L394.98,689.37 L396.97,689.60 L398.96,689.83 L400.95,690.06 L402.93,690.29 L404.92,690.52 L406.91,690.75 L408.89,690.99 L410.88,691.22 L412.86,691.45 L414.85,691.69 L416.84,691.92 L418.82,692.15 L420.81,692.39 L422.80,692.62 L424.78,692.85 L426.77,693.08 L428.76,693.31 L430.74,693.54 L432.73,693.76 L434.72,693.99 L436.70,694.22 L438.69,694.45 L440.68,694.67 L442.67,694.90 L444.65,695.12 L446.64,695.35 L448.63,695.57 L450.61,695.80 L452.60,696.02 L454.59,696.24 L456.58,696.46 L458.56,696.69 L460.55,696.91 L462.54,697.13 L464.53,697.35 L466.52,697.57 L468.50,697.79 L470.49,698.01 L472.48,698.23 L474.47,698.45 L476.46,698.67 L478.44,698.89 L480.43,699.11 L482.42,699.32 L484.41,699.54 L486.40,699.76 L488.38,699.98 L490.37,700.19 L492.36,700.41 L494.35,700.63 L496.34,700.85 L498.32,701.06 L500.31,701.28 L502.30,701.50 L504.29,701.71 L506.28,701.93 L508.27,702.15 L510.25,702.36 L512.24,702.58 L514.23,702.80 L516.22,703.01 L518.21,703.23 L520.20,703.44 L522.18,703.66 L524.17,703.88 L526.16,704.09 L528.15,704.31 L530.14,704.53 L532.12,704.74 L534.11,704.96 L536.10,705.18 L538.09,705.39 L540.08,705.61 L542.07,705.83 L544.05,706.05 L546.04,706.27 L548.03,706.48 L550.02,706.70 L552.01,706.92 L553.99,707.14 L555.98,707.36 L557.97,707.58 L559.96,707.80 L561.95,708.02 L563.93,708.24 L565.92,708.46 L567.91,708.68 L569.90,708.90 L571.88,709.12 L573.87,709.35 L575.86,709.57 L577.85,709.79 L579.83,710.01 L581.82,710.24 L583.81,710.46 L585.80,710.69 L587.78,710.91 L589.77,711.14 L591.76,711.37 L593.75,711.59 L595.73,711.82 L597.72,712.05 L599.71,712.28 L601.69,712.51 L603.68,712.74 L605.67,712.97 L607.65,713.20 L609.64,713.43 L611.63,713.66 L613.61,713.89 L615.60,714.13 L617.59,714.36 L619.57,714.60 L621.56,714.83 L623.54,715.07 L625.53,715.31 L627.52,715.54 L629.50,715.78 L631.49,716.02 L633.47,716.26 L635.46,716.50 L637.44,716.75 L639.43,716.99 L641.41,717.23 L643.40,717.48 L645.38,717.72 L647.37,717.97 L649.35,718.22 L651.34,718.47 L653.32,718.71 L655.31,718.96 L657.29,719.22 L659.28,719.47 L661.26,719.72 L663.24,719.98 L665.23,720.23 L666.60,720.41" fill="none" stroke="#000000" stroke-width="2.9" stroke-linejoin="round" stroke-dasharray="17.43 8.22 19.21 8.30 19.64 8.43 20.34 8.65 21.63 9.10 24.52 9.73 22.75 8.65 19.68 8.19 18.55 8.03 18.07 7.94 17.83 7.91 17.75 7.90 17.76 7.91 17.81 7.92 17.86 7.93 17.88 7.93 17.88 7.93 17.87 7.93 17.86 7.93 17.86 7.93 17.86 7.93 17.87 7.93 17.87 7.93 17.88 7.94 17.89 7.94 11.65 100.00" stroke-dashoffset="-1.45" stroke-linecap="round"/>
<path d="M81.70,878.19 L82.50,876.36 L83.31,874.54 L84.13,872.73 L84.95,870.91 L85.78,869.10 L86.62,867.29 L87.46,865.49 L88.31,863.69 L89.17,861.89 L90.03,860.10 L90.90,858.31 L91.78,856.52 L92.67,854.74 L93.57,852.96 L94.47,851.19 L95.38,849.42 L96.30,847.65 L97.23,845.89 L98.17,844.14 L99.12,842.38 L100.07,840.64 L101.04,838.90 L102.01,837.16 L102.99,835.43 L103.98,833.70 L104.99,831.98 L106.00,830.27 L107.02,828.56 L108.05,826.86 L109.09,825.17 L110.15,823.48 L111.21,821.80 L112.28,820.12 L113.37,818.45 L114.47,816.79 L115.57,815.14 L116.69,813.50 L117.83,811.86 L118.97,810.23 L120.13,808.61 L121.29,807.00 L122.47,805.40 L123.67,803.81 L124.87,802.23 L126.09,800.66 L127.33,799.09 L128.57,797.54 L129.83,796.00 L131.10,794.48 L132.39,792.96 L133.69,791.45 L135.01,789.96 L136.33,788.48 L137.68,787.01 L139.04,785.56 L140.41,784.12 L141.79,782.69 L143.19,781.28 L144.61,779.88 L146.04,778.50 L147.49,777.13 L148.95,775.78 L150.42,774.44 L151.91,773.12 L153.42,771.82 L154.94,770.54 L156.47,769.27 L158.03,768.03 L159.59,766.80 L161.18,765.59 L162.77,764.41 L164.39,763.24 L166.01,762.09 L167.66,760.97 L169.32,759.87 L170.99,758.79 L172.68,757.73 L174.38,756.69 L176.09,755.68 L177.82,754.69 L179.57,753.73 L181.32,752.79 L183.09,751.87 L184.87,750.98 L186.67,750.11 L188.47,749.26 L190.29,748.44 L192.12,747.65 L193.96,746.88 L195.81,746.13 L197.67,745.41 L199.54,744.71 L201.41,744.03 L203.30,743.38 L205.19,742.75 L207.09,742.14 L209.00,741.56 L210.92,740.99 L212.84,740.45 L214.77,739.93 L216.70,739.42 L218.64,738.94 L220.58,738.47 L222.53,738.03 L224.48,737.60 L226.43,737.18 L228.39,736.78 L230.35,736.40 L232.32,736.03 L234.28,735.67 L236.25,735.32 L238.22,734.99 L240.20,734.66 L242.17,734.35 L244.15,734.04 L246.12,733.75 L248.10,733.46 L250.08,733.18 L252.06,732.91 L254.05,732.65 L256.03,732.39 L258.01,732.15 L260.00,731.91 L261.98,731.68 L263.97,731.46 L265.96,731.25 L267.95,731.05 L269.94,730.85 L271.93,730.66 L273.92,730.48 L275.91,730.31 L277.91,730.15 L279.90,729.99 L281.89,729.84 L283.89,729.70 L285.88,729.56 L287.88,729.43 L289.88,729.31 L291.87,729.20 L293.87,729.09 L295.87,728.99 L297.86,728.89 L299.86,728.81 L301.86,728.73 L303.86,728.65 L305.86,728.58 L307.86,728.52 L309.86,728.47 L311.86,728.42 L313.85,728.37 L315.85,728.33 L317.85,728.30 L319.85,728.27 L321.85,728.25 L323.85,728.24 L325.85,728.22 L327.85,728.22 L329.85,728.22 L331.85,728.22 L333.85,728.23 L335.85,728.24 L337.85,728.26 L339.85,728.29 L341.85,728.31 L343.85,728.34 L345.85,728.38 L347.85,728.42 L349.85,728.47 L351.85,728.51 L353.85,728.57 L355.85,728.62 L357.85,728.68 L359.85,728.74 L361.85,728.81 L363.85,728.88 L365.84,728.95 L367.84,729.03 L369.84,729.11 L371.84,729.19 L373.84,729.27 L375.84,729.36 L377.83,729.45 L379.83,729.54 L381.83,729.64 L383.83,729.73 L385.83,729.83 L387.82,729.93 L389.82,730.04 L391.82,730.14 L393.81,730.25 L395.81,730.36 L397.81,730.47 L399.81,730.58 L401.80,730.69 L403.80,730.80 L405.80,730.92 L407.79,731.04 L409.79,731.15 L411.79,731.27 L413.78,731.39 L415.78,731.51 L417.78,731.63 L419.77,731.75 L421.77,731.87 L423.76,731.99 L425.76,732.12 L427.76,732.24 L429.75,732.36 L431.75,732.48 L433.75,732.61 L435.74,732.73 L437.74,732.85 L439.73,732.98 L441.73,733.10 L443.73,733.23 L445.72,733.35 L447.72,733.48 L449.71,733.60 L451.71,733.73 L453.71,733.86 L455.70,733.98 L457.70,734.11 L459.69,734.24 L461.69,734.37 L463.69,734.50 L465.68,734.62 L467.68,734.75 L469.67,734.88 L471.67,735.01 L473.67,735.14 L475.66,735.27 L477.66,735.40 L479.65,735.53 L481.65,735.66 L483.64,735.80 L485.64,735.93 L487.64,736.06 L489.63,736.19 L491.63,736.32 L493.62,736.46 L495.62,736.59 L497.61,736.72 L499.61,736.85 L501.60,736.99 L503.60,737.12 L505.60,737.26 L507.59,737.39 L509.59,737.53 L511.58,737.66 L513.58,737.79 L515.57,737.93 L517.57,738.07 L519.56,738.20 L521.56,738.34 L523.55,738.47 L525.55,738.61 L527.55,738.75 L529.54,738.88 L531.54,739.02 L533.53,739.16 L535.53,739.29 L537.52,739.43 L539.52,739.57 L541.51,739.70 L543.51,739.84 L545.50,739.98 L547.50,740.12 L549.49,740.26 L551.49,740.40 L553.48,740.53 L555.48,740.67 L557.47,740.81 L559.47,740.95 L561.46,741.09 L563.46,741.23 L565.45,741.37 L567.45,741.51 L569.45,741.65 L571.44,741.79 L573.44,741.93 L575.43,742.07 L577.43,742.21 L579.42,742.35 L581.42,742.49 L583.41,742.63 L585.41,742.77 L587.40,742.91 L589.40,743.05 L591.39,743.19 L593.39,743.33 L595.38,743.47 L597.38,743.61 L599.37,743.75 L601.37,743.89 L603.36,744.03 L605.36,744.17 L607.35,744.31 L609.35,744.46 L611.34,744.60 L613.34,744.74 L615.33,744.88 L617.33,745.02 L619.32,745.16 L621.32,745.30 L623.31,745.44 L625.31,745.58 L627.30,745.73 L629.30,745.87 L631.29,746.01 L633.29,746.15 L635.28,746.29 L637.28,746.43 L639.27,746.57 L641.27,746.71 L643.26,746.86 L645.26,747.00 L647.25,747.14 L649.25,747.28 L651.24,747.42 L653.24,747.56 L655.23,747.70 L657.23,747.84 L659.22,747.98 L661.22,748.12 L663.21,748.26 L665.21,748.40 L666.60,748.50" fill="none" stroke="#ff0000" stroke-width="2.9" stroke-linejoin="round" stroke-dasharray="18.21 8.48 20.56 8.71 21.84 9.14 24.43 9.87 23.56 8.84 20.29 8.27 18.68 8.03 18.07 7.95 17.88 7.92 17.79 7.90 17.75 7.90 17.74 7.90 17.75 7.90 17.77 7.91 17.78 7.91 17.78 7.91 17.78 7.91 17.79 7.91 17.79 7.91 17.79 7.91 17.79 7.91 17.79 7.91 17.79 7.91 17.79 7.91 3.55 100.00" stroke-dashoffset="-1.45" stroke-linecap="round"/>
<path d="M81.70,878.18 L82.81,876.53 L83.94,874.88 L85.07,873.25 L86.21,871.62 L87.36,869.99 L88.53,868.37 L89.70,866.77 L90.88,865.16 L92.07,863.57 L93.28,861.98 L94.49,860.41 L95.72,858.84 L96.96,857.28 L98.20,855.73 L99.46,854.18 L100.73,852.65 L102.02,851.13 L103.31,849.62 L104.62,848.11 L105.94,846.62 L107.27,845.14 L108.61,843.67 L109.96,842.21 L111.33,840.76 L112.71,839.33 L114.10,837.91 L115.51,836.50 L116.93,835.10 L118.36,833.72 L119.80,832.34 L121.26,830.99 L122.73,829.65 L124.21,828.32 L125.71,827.00 L127.22,825.70 L128.74,824.42 L130.28,823.15 L131.83,821.90 L133.39,820.67 L134.97,819.45 L136.55,818.25 L138.16,817.06 L139.77,815.90 L141.40,814.75 L143.04,813.62 L144.69,812.50 L146.35,811.41 L148.03,810.33 L149.72,809.27 L151.42,808.23 L153.13,807.21 L154.86,806.21 L156.59,805.23 L158.34,804.27 L160.10,803.33 L161.86,802.40 L163.64,801.50 L165.43,800.62 L167.23,799.76 L169.04,798.92 L170.86,798.10 L172.68,797.30 L174.52,796.52 L176.37,795.76 L178.22,795.02 L180.08,794.30 L181.95,793.60 L183.83,792.92 L185.71,792.26 L187.60,791.63 L189.50,791.01 L191.41,790.40 L193.32,789.82 L195.23,789.26 L197.15,788.71 L199.08,788.19 L201.01,787.68 L202.95,787.19 L204.89,786.71 L206.83,786.25 L208.78,785.81 L210.74,785.38 L212.69,784.97 L214.65,784.57 L216.61,784.19 L218.57,783.82 L220.54,783.46 L222.51,783.12 L224.48,782.79 L226.45,782.47 L228.43,782.16 L230.41,781.86 L232.38,781.57 L234.36,781.29 L236.34,781.01 L238.33,780.75 L240.31,780.49 L242.29,780.24 L244.28,780.00 L246.26,779.76 L248.25,779.53 L250.24,779.31 L252.22,779.09 L254.21,778.88 L256.20,778.67 L258.19,778.47 L260.18,778.28 L262.17,778.09 L264.16,777.91 L266.16,777.73 L268.15,777.56 L270.14,777.39 L272.14,777.23 L274.13,777.08 L276.12,776.93 L278.12,776.79 L280.11,776.65 L282.11,776.52 L284.10,776.39 L286.10,776.27 L288.10,776.15 L290.09,776.04 L292.09,775.93 L294.09,775.83 L296.09,775.73 L298.08,775.64 L300.08,775.55 L302.08,775.47 L304.08,775.39 L306.08,775.31 L308.07,775.24 L310.07,775.18 L312.07,775.11 L314.07,775.06 L316.07,775.00 L318.07,774.95 L320.07,774.91 L322.07,774.86 L324.07,774.82 L326.07,774.79 L328.07,774.76 L330.07,774.73 L332.07,774.70 L334.07,774.68 L336.07,774.67 L338.07,774.65 L340.07,774.64 L342.07,774.63 L344.07,774.63 L346.07,774.62 L348.07,774.62 L350.07,774.63 L352.07,774.63 L354.07,774.64 L356.07,774.65 L358.07,774.66 L360.07,774.68 L362.07,774.70 L364.07,774.72 L366.07,774.74 L368.07,774.76 L370.07,774.79 L372.07,774.82 L374.07,774.85 L376.07,774.88 L378.07,774.92 L380.07,774.95 L382.06,774.99 L384.06,775.03 L386.06,775.07 L388.06,775.11 L390.06,775.15 L392.06,775.19 L394.06,775.24 L396.06,775.29 L398.06,775.33 L400.06,775.38 L402.06,775.43 L404.06,775.48 L406.06,775.53 L408.06,775.58 L410.06,775.63 L412.06,775.68 L414.06,775.73 L416.06,775.79 L418.06,775.84 L420.05,775.89 L422.05,775.94 L424.05,776.00 L426.05,776.05 L428.05,776.10 L430.05,776.16 L432.05,776.21 L434.05,776.26 L436.05,776.32 L438.05,776.37 L440.05,776.43 L442.05,776.48 L444.05,776.53 L446.04,776.59 L448.04,776.64 L450.04,776.70 L452.04,776.75 L454.04,776.81 L456.04,776.86 L458.04,776.92 L460.04,776.97 L462.04,777.03 L464.04,777.08 L466.04,777.14 L468.04,777.20 L470.04,777.25 L472.04,777.31 L474.03,777.36 L476.03,777.42 L478.03,777.48 L480.03,777.53 L482.03,777.59 L484.03,777.65 L486.03,777.70 L488.03,777.76 L490.03,777.82 L492.03,777.88 L494.03,777.93 L496.03,777.99 L498.02,778.05 L500.02,778.11 L502.02,778.17 L504.02,778.23 L506.02,778.28 L508.02,778.34 L510.02,778.40 L512.02,778.46 L514.02,778.52 L516.02,778.58 L518.02,778.64 L520.01,778.70 L522.01,778.76 L524.01,778.82 L526.01,778.88 L528.01,778.94 L530.01,779.00 L532.01,779.06 L534.01,779.12 L536.01,779.18 L538.01,779.24 L540.01,779.30 L542.00,779.36 L544.00,779.42 L546.00,779.49 L548.00,779.55 L550.00,779.61 L552.00,779.67 L554.00,779.73 L556.00,779.80 L558.00,779.86 L560.00,779.92 L562.00,779.98 L563.99,780.05 L565.99,780.11 L567.99,780.17 L569.99,780.24 L571.99,780.30 L573.99,780.36 L575.99,780.43 L577.99,780.49 L579.99,780.56 L581.99,780.62 L583.98,780.69 L585.98,780.75 L587.98,780.81 L589.98,780.88 L591.98,780.95 L593.98,781.01 L595.98,781.08 L597.98,781.14 L599.98,781.21 L601.97,781.27 L603.97,781.34 L605.97,781.41 L607.97,781.47 L609.97,781.54 L611.97,781.61 L613.97,781.67 L615.97,781.74 L617.97,781.81 L619.96,781.88 L621.96,781.94 L623.96,782.01 L625.96,782.08 L627.96,782.15 L629.96,782.22 L631.96,782.28 L633.96,782.35 L635.96,782.42 L637.95,782.49 L639.95,782.56 L641.95,782.63 L643.95,782.70 L645.95,782.77 L647.95,782.84 L649.95,782.91 L651.95,782.98 L653.94,783.05 L655.94,783.12 L657.94,783.19 L659.94,783.26 L661.94,783.33 L663.94,783.40 L665.94,783.48 L666.60,783.50" fill="none" stroke="#0000ff" stroke-width="2.9" stroke-linejoin="round" stroke-dasharray="19.57 9.30 25.04 9.75 23.40 8.88 20.60 8.36 19.01 8.09 18.24 7.97 17.94 7.93 17.83 7.91 17.78 7.90 17.75 7.90 17.74 7.90 17.74 7.90 17.74 7.90 17.75 7.90 17.75 7.90 17.75 7.90 17.75 7.90 17.75 7.90 17.75 7.90 17.75 7.90 17.75 7.90 17.75 7.90 17.75 7.90 2.58 100.00" stroke-dashoffset="-1.45" stroke-linecap="round"/>
<path d="M81.70,878.17 L83.32,877.00 L84.94,875.85 L86.57,874.70 L88.22,873.57 L89.87,872.46 L91.53,871.35 L93.20,870.26 L94.88,869.19 L96.57,868.12 L98.27,867.08 L99.97,866.04 L101.69,865.02 L103.41,864.02 L105.14,863.03 L106.88,862.05 L108.63,861.09 L110.39,860.14 L112.16,859.21 L113.93,858.30 L115.71,857.40 L117.50,856.51 L119.29,855.64 L121.10,854.79 L122.91,853.95 L124.73,853.13 L126.55,852.32 L128.39,851.53 L130.23,850.75 L132.07,849.99 L133.92,849.24 L135.78,848.52 L137.65,847.80 L139.52,847.10 L141.39,846.42 L143.28,845.75 L145.16,845.10 L147.06,844.46 L148.96,843.84 L150.86,843.24 L152.77,842.64 L154.68,842.07 L156.60,841.51 L158.52,840.96 L160.44,840.43 L162.37,839.91 L164.31,839.40 L166.24,838.91 L168.18,838.44 L170.13,837.97 L172.07,837.52 L174.03,837.09 L175.98,836.66 L177.93,836.25 L179.89,835.86 L181.85,835.47 L183.82,835.10 L185.78,834.73 L187.75,834.38 L189.72,834.04 L191.69,833.72 L193.67,833.40 L195.64,833.09 L197.62,832.79 L199.60,832.51 L201.58,832.23 L203.56,831.96 L205.54,831.70 L207.53,831.45 L209.51,831.21 L211.50,830.98 L213.48,830.75 L215.47,830.53 L217.46,830.32 L219.45,830.11 L221.44,829.92 L223.43,829.72 L225.42,829.54 L227.41,829.36 L229.40,829.18 L231.40,829.01 L233.39,828.85 L235.38,828.68 L237.38,828.53 L239.37,828.37 L241.36,828.22 L243.36,828.07 L245.35,827.93 L247.35,827.79 L249.34,827.65 L251.34,827.51 L253.33,827.38 L255.33,827.25 L257.32,827.12 L259.32,827.00 L261.32,826.87 L263.31,826.75 L265.31,826.64 L267.31,826.52 L269.30,826.41 L271.30,826.31 L273.30,826.20 L275.29,826.10 L277.29,826.00 L279.29,825.90 L281.29,825.80 L283.29,825.71 L285.28,825.62 L287.28,825.53 L289.28,825.45 L291.28,825.37 L293.28,825.29 L295.27,825.21 L297.27,825.13 L299.27,825.06 L301.27,824.99 L303.27,824.92 L305.27,824.85 L307.27,824.79 L309.27,824.73 L311.27,824.67 L313.26,824.61 L315.26,824.56 L317.26,824.50 L319.26,824.45 L321.26,824.40 L323.26,824.36 L325.26,824.31 L327.26,824.27 L329.26,824.23 L331.26,824.19 L333.26,824.15 L335.26,824.12 L337.26,824.09 L339.26,824.06 L341.26,824.03 L343.26,824.00 L345.26,823.97 L347.26,823.95 L349.26,823.93 L351.26,823.91 L353.26,823.89 L355.26,823.87 L357.26,823.86 L359.26,823.84 L361.26,823.83 L363.26,823.82 L365.26,823.81 L367.26,823.81 L369.26,823.80 L371.26,823.80 L373.26,823.79 L375.26,823.79 L377.26,823.79 L379.26,823.79 L381.26,823.80 L383.26,823.80 L385.26,823.81 L387.26,823.81 L389.26,823.82 L391.26,823.83 L393.26,823.84 L395.26,823.85 L397.26,823.87 L399.26,823.88 L401.26,823.89 L403.26,823.91 L405.26,823.93 L407.26,823.95 L409.26,823.97 L411.26,823.99 L413.26,824.01 L415.26,824.03 L417.26,824.05 L419.26,824.08 L421.26,824.10 L423.25,824.13 L425.25,824.16 L427.25,824.18 L429.25,824.21 L431.25,824.24 L433.25,824.27 L435.25,824.30 L437.25,824.33 L439.25,824.37 L441.25,824.40 L443.25,824.43 L445.25,824.47 L447.25,824.50 L449.25,824.54 L451.25,824.57 L453.25,824.61 L455.25,824.64 L457.25,824.68 L459.25,824.72 L461.25,824.76 L463.25,824.79 L465.25,824.83 L467.25,824.87 L469.25,824.91 L471.25,824.95 L473.25,824.99 L475.25,825.03 L477.25,825.07 L479.25,825.11 L481.25,825.15 L483.25,825.19 L485.25,825.23 L487.24,825.27 L489.24,825.31 L491.24,825.36 L493.24,825.40 L495.24,825.44 L497.24,825.48 L499.24,825.52 L501.24,825.56 L503.24,825.60 L505.24,825.64 L507.24,825.68 L509.24,825.72 L511.24,825.76 L513.24,825.80 L515.24,825.84 L517.24,825.88 L519.24,825.92 L521.24,825.96 L523.24,826.00 L525.24,826.04 L527.24,826.07 L529.24,826.11 L531.24,826.15 L533.24,826.18 L535.24,826.22 L537.23,826.25 L539.23,826.29 L541.23,826.32 L543.23,826.36 L545.23,826.39 L547.23,826.42 L549.23,826.45 L551.23,826.48 L553.23,826.51 L555.23,826.54 L557.23,826.57 L559.23,826.60 L561.23,826.63 L563.23,826.65 L565.23,826.68 L567.23,826.70 L569.23,826.73 L571.23,826.75 L573.23,826.77 L575.23,826.79 L577.23,826.81 L579.23,826.83 L581.23,826.85 L583.23,826.87 L585.23,826.88 L587.23,826.90 L589.23,826.91 L591.23,826.92 L593.23,826.93 L595.23,826.94 L597.23,826.95 L599.23,826.96 L601.23,826.96 L603.23,826.97 L605.23,826.97 L607.23,826.97 L609.23,826.97 L611.23,826.97 L613.23,826.97 L615.23,826.97 L617.23,826.96 L619.23,826.95 L621.23,826.95 L623.23,826.94 L625.23,826.92 L627.23,826.91 L629.23,826.90 L631.23,826.88 L633.23,826.86 L635.23,826.84 L637.23,826.82 L639.23,826.80 L641.23,826.77 L643.23,826.75 L645.23,826.72 L647.23,826.69 L649.23,826.65 L651.23,826.62 L653.23,826.58 L655.23,826.55 L657.23,826.51 L659.23,826.46 L661.23,826.42 L663.23,826.37 L665.23,826.32 L666.60,826.29" fill="none" stroke="#00ff00" stroke-width="2.9" stroke-linejoin="round" stroke-dasharray="20.44 8.67 20.15 8.33 19.02 8.11 18.35 8.00 18.00 7.94 17.85 7.92 17.79 7.91 17.77 7.91 17.76 7.90 17.75 7.90 17.74 7.90 17.74 7.90 17.74 7.90 17.74 7.90 17.74 7.90 17.74 7.90 17.74 7.90 17.74 7.90 17.74 7.90 17.74 7.90 17.74 7.90 17.74 7.90 17.74 100.00" stroke-dashoffset="-1.45" stroke-linecap="round"/>
    <path d="M81.45,11.2 H668.0 V878.6 H81.45 Z" fill="none" stroke="#000" stroke-width="3.65" stroke-linejoin="round"/>
<path d="M81.45,444.8 H668.0" stroke="#000" stroke-width="3.65"/>
<path d="M154.97,11.2 v9.45 M154.97,878.6 v-9.45 M154.97,435.35 v18.90 M228.25,11.2 v9.45 M228.25,878.6 v-9.45 M228.25,435.35 v18.90 M301.52,11.2 v9.45 M301.52,878.6 v-9.45 M301.52,435.35 v18.90 M374.80,11.2 v9.45 M374.80,878.6 v-9.45 M374.80,435.35 v18.90 M448.07,11.2 v9.45 M448.07,878.6 v-9.45 M448.07,435.35 v18.90 M521.35,11.2 v9.45 M521.35,878.6 v-9.45 M521.35,435.35 v18.90 M594.62,11.2 v9.45 M594.62,878.6 v-9.45 M594.62,435.35 v18.90 M81.45,401.44 h9.45 M668.0,401.44 h-9.45 M81.45,835.22 h9.45 M668.0,835.22 h-9.45 M81.45,358.08 h9.45 M668.0,358.08 h-9.45 M81.45,791.84 h9.45 M668.0,791.84 h-9.45 M81.45,314.72 h9.45 M668.0,314.72 h-9.45 M81.45,748.46 h9.45 M668.0,748.46 h-9.45 M81.45,271.36 h9.45 M668.0,271.36 h-9.45 M81.45,705.08 h9.45 M668.0,705.08 h-9.45 M81.45,228.00 h9.45 M668.0,228.00 h-9.45 M81.45,661.70 h9.45 M668.0,661.70 h-9.45 M81.45,184.64 h9.45 M668.0,184.64 h-9.45 M81.45,618.32 h9.45 M668.0,618.32 h-9.45 M81.45,141.28 h9.45 M668.0,141.28 h-9.45 M81.45,574.94 h9.45 M668.0,574.94 h-9.45 M81.45,97.92 h9.45 M668.0,97.92 h-9.45 M81.45,531.56 h9.45 M668.0,531.56 h-9.45 M81.45,54.56 h9.45 M668.0,54.56 h-9.45 M81.45,488.18 h9.45 M668.0,488.18 h-9.45" stroke="#000" stroke-width="3.7" stroke-linecap="round" fill="none"/>
    <defs><clipPath id="clip0" clipPathUnits="userSpaceOnUse"><rect x="-36.00" y="-46.80" width="144.00" height="43.20"/><rect x="8.93" y="-7.20" width="3.46" height="18.00"/><rect x="18.00" y="-7.20" width="108.00" height="18.00"/></clipPath>
<clipPath id="clip5" clipPathUnits="userSpaceOnUse"><rect x="-36.00" y="-46.80" width="144.00" height="43.20"/><rect x="8.93" y="-7.20" width="3.46" height="18.00"/><rect x="18.00" y="-7.20" width="108.00" height="18.00"/></clipPath>
<clipPath id="clip8" clipPathUnits="userSpaceOnUse"><rect x="-36.00" y="-46.80" width="144.00" height="43.20"/><rect x="8.93" y="-7.20" width="3.46" height="18.00"/><rect x="17.11" y="-7.20" width="108.00" height="18.00"/></clipPath>
<clipPath id="clip9" clipPathUnits="userSpaceOnUse"><rect x="-36.00" y="-46.80" width="144.00" height="43.20"/><rect x="8.93" y="-7.20" width="3.46" height="18.00"/><rect x="18.00" y="-7.20" width="108.00" height="18.00"/></clipPath></defs>
    <g font-family="'Liberation Sans', Arial, sans-serif" fill="#000">
    <g transform="matrix(1.1337,0,0,0.9748,35.52,24.71)"><text x="0.00 15.08" y="0" font-size="36.0" stroke="#000" stroke-width="0.3" clip-path="url(#clip0)">10</text></g>
<g transform="matrix(1.1176,0,0,0.9748,52.42,110.61)"><text x="0" y="0" font-size="36.0" stroke="#000" stroke-width="0.3">8</text></g>
<g transform="matrix(1.0985,0,0,0.9786,52.38,196.71)"><text x="0" y="0" font-size="36.0" stroke="#000" stroke-width="0.3">6</text></g>
<g transform="matrix(1.1068,0,0,0.9880,52.17,284.70)"><text x="0" y="0" font-size="36.0" stroke="#000" stroke-width="0.3">4</text></g>
<g transform="matrix(1.1273,0,0,0.9822,52.23,370.80)"><text x="0" y="0" font-size="36.0" stroke="#000" stroke-width="0.3">2</text></g>
<g transform="matrix(1.1337,0,0,0.9748,35.52,458.21)"><text x="0.00 15.08" y="0" font-size="36.0" stroke="#000" stroke-width="0.3" clip-path="url(#clip5)">10</text></g>
<g transform="matrix(1.0629,0,0,0.9786,52.87,911.61)"><text x="0" y="0" font-size="36.0" stroke="#000" stroke-width="0.3">0</text></g>
<g transform="matrix(1.1343,0,0,0.9864,216.21,911.91)"><text x="0" y="0" font-size="36.0" stroke="#000" stroke-width="0.3">6</text></g>
<g transform="matrix(1.1204,0,0,0.9901,353.13,912.00)"><text x="0.00 15.06" y="0" font-size="36.0" stroke="#000" stroke-width="0.3" clip-path="url(#clip8)">12</text></g>
<g transform="matrix(1.1579,0,0,0.9942,500.33,912.10)"><text x="0.00 14.59" y="0" font-size="36.0" stroke="#000" stroke-width="0.3" clip-path="url(#clip9)">18</text></g>
<g transform="matrix(1.1201,0,0,0.9980,646.05,912.10)"><text x="0.00 16.33" y="0" font-size="36.0" stroke="#000" stroke-width="0.3">24</text></g>
<g transform="matrix(1.1176,0,0,0.9748,52.42,544.21)"><text x="0" y="0" font-size="36.0" stroke="#000" stroke-width="0.3">8</text></g>
<g transform="matrix(1.0985,0,0,0.9786,52.38,630.31)"><text x="0" y="0" font-size="36.0" stroke="#000" stroke-width="0.3">6</text></g>
<g transform="matrix(1.1068,0,0,0.9880,52.17,718.30)"><text x="0" y="0" font-size="36.0" stroke="#000" stroke-width="0.3">4</text></g>
<g transform="matrix(1.1273,0,0,0.9822,52.23,804.40)"><text x="0" y="0" font-size="36.0" stroke="#000" stroke-width="0.3">2</text></g>
<g transform="matrix(1.0586,0,0,0.9759,235.59,960.90)"><text x="0" y="0" font-size="35.0" stroke="#000" stroke-width="0.45">Reaction time (h)</text></g>
<g transform="matrix(0,-1.0506,0.9679,0,25.10,331.23)"><text x="0" y="0" font-size="35.0" stroke="#000" stroke-width="0.45">Yield (mol%)</text></g>
<g transform="matrix(0,-1.0480,0.9679,0,25.10,764.72)"><text x="0" y="0" font-size="35.0" stroke="#000" stroke-width="0.45">Yield (mol%)</text></g>
<g transform="matrix(1.0484,0,0,0.9837,584.70,55.55)"><text x="0" y="0" font-size="35.0" font-weight="bold" stroke="#000" stroke-width="0.5">HBr</text></g>
<g transform="matrix(1.0536,0,0,0.9654,589.59,489.52)"><text x="0" y="0" font-size="35.0" font-weight="bold" stroke="#000" stroke-width="0.5">HCl</text></g>
    </g>
    </svg>
    </body></html>
